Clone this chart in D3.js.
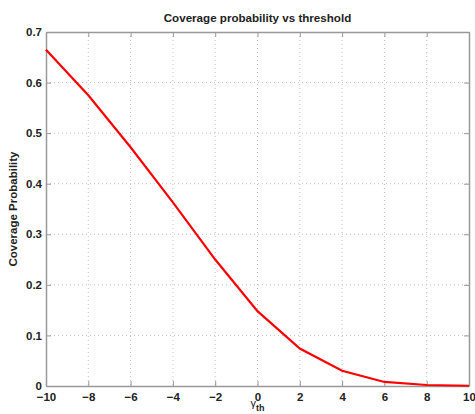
<!DOCTYPE html>
<html>
<head>
<meta charset="utf-8">
<script src="https://cdn.jsdelivr.net/npm/d3@7"></script>
<style>
  body { margin: 0; background: #fff; }
  svg { font-family: "Liberation Sans", Arial, sans-serif; }
  .tick text { font-size: 11.5px; font-weight: bold; fill: #222; }
</style>
</head>
<body>
<svg id="chart" width="475" height="414"></svg>
<script>
// Data
var thresholds = [-10, -8, -6, -4, -2, 0, 2, 4, 6, 8, 10];
var coverage = [0.665, 0.575, 0.472, 0.363, 0.25, 0.148, 0.074, 0.03, 0.008, 0.002, 0.0005];
var xTicks = [-10, -8, -6, -4, -2, 0, 2, 4, 6, 8, 10];
var yTicks = [0, 0.1, 0.2, 0.3, 0.4, 0.5, 0.6, 0.7];

var margin = { top: 32, right: 6, bottom: 28, left: 46 };
var width = 475 - margin.left - margin.right;
var height = 414 - margin.top - margin.bottom;

var svg = d3.select('#chart');
var g = svg.append('g')
  .attr('transform', 'translate(' + margin.left + ',' + margin.top + ')');

var xScale = d3.scaleLinear().domain([-10, 10]).range([0, width]);
var yScale = d3.scaleLinear().domain([0, 0.7]).range([height, 0]);

// dotted grid
g.append('g').selectAll('line.vg')
  .data(xTicks.slice(1, -1)).enter()
  .append('line')
    .attr('x1', function(d) { return xScale(d); })
    .attr('x2', function(d) { return xScale(d); })
    .attr('y1', 0).attr('y2', height)
    .style('stroke', '#c0c0c0').style('stroke-dasharray', '1,3');
g.append('g').selectAll('line.hg')
  .data(yTicks.slice(1, -1)).enter()
  .append('line')
    .attr('y1', function(d) { return yScale(d); })
    .attr('y2', function(d) { return yScale(d); })
    .attr('x1', 0).attr('x2', width)
    .style('stroke', '#c0c0c0').style('stroke-dasharray', '1,3');

// axes (ticks point inward)
var xAxis = d3.axisBottom(xScale).tickValues(xTicks).tickSizeInner(-5).tickSizeOuter(0)
  .tickPadding(7).tickFormat(function(d) { return d < 0 ? '\u2212' + Math.abs(d) : d; });
var yAxis = d3.axisLeft(yScale).tickValues(yTicks).tickSizeInner(-5).tickSizeOuter(0)
  .tickPadding(4).tickFormat(function(d) { return d === 0 ? '0' : d3.format('.1f')(d); });
var xTop = d3.axisTop(xScale).tickValues(xTicks).tickSizeInner(-5).tickSizeOuter(0).tickFormat('');
var yRight = d3.axisRight(yScale).tickValues(yTicks).tickSizeInner(-5).tickSizeOuter(0).tickFormat('');

g.append('g').attr('class', 'x axis').attr('transform', 'translate(0,' + height + ')').call(xAxis);
g.append('g').attr('class', 'y axis').call(yAxis);
g.append('g').attr('class', 'x axis').call(xTop);
g.append('g').attr('class', 'y axis').attr('transform', 'translate(' + width + ',0)').call(yRight);
g.selectAll('.axis path, .axis line').style('stroke', '#999').style('stroke-width', 1);
g.selectAll('.axis path').style('stroke-width', 1.5);

// series
var line = d3.line()
  .x(function(d, i) { return xScale(thresholds[i]); })
  .y(function(d) { return yScale(d); });
g.append('path')
  .datum(coverage)
  .attr('d', line)
  .style('fill', 'none')
  .style('stroke', '#ff0000')
  .style('stroke-width', 2.2);

// title and labels
svg.append('text')
  .attr('x', margin.left + width / 2).attr('y', 22)
  .attr('text-anchor', 'middle')
  .style('font-size', '11.6px').style('font-weight', 'bold').style('fill', '#222')
  .text('Coverage probability vs threshold');
svg.append('text')
  .attr('transform', 'translate(17,' + (margin.top + height / 2) + ') rotate(-90)')
  .attr('text-anchor', 'middle')
  .style('font-size', '11.5px').style('font-weight', 'bold').style('fill', '#222')
  .text('Coverage Probability');
var xl = svg.append('text')
  .attr('x', margin.left + width / 2).attr('y', 407)
  .attr('text-anchor', 'middle')
  .style('font-size', '11px').style('fill', '#222');
xl.append('tspan').text('\u03b3');
xl.append('tspan').attr('dy', 4).style('font-size', '9px').style('font-weight', 'bold').text('th');
</script>
</body>
</html>
